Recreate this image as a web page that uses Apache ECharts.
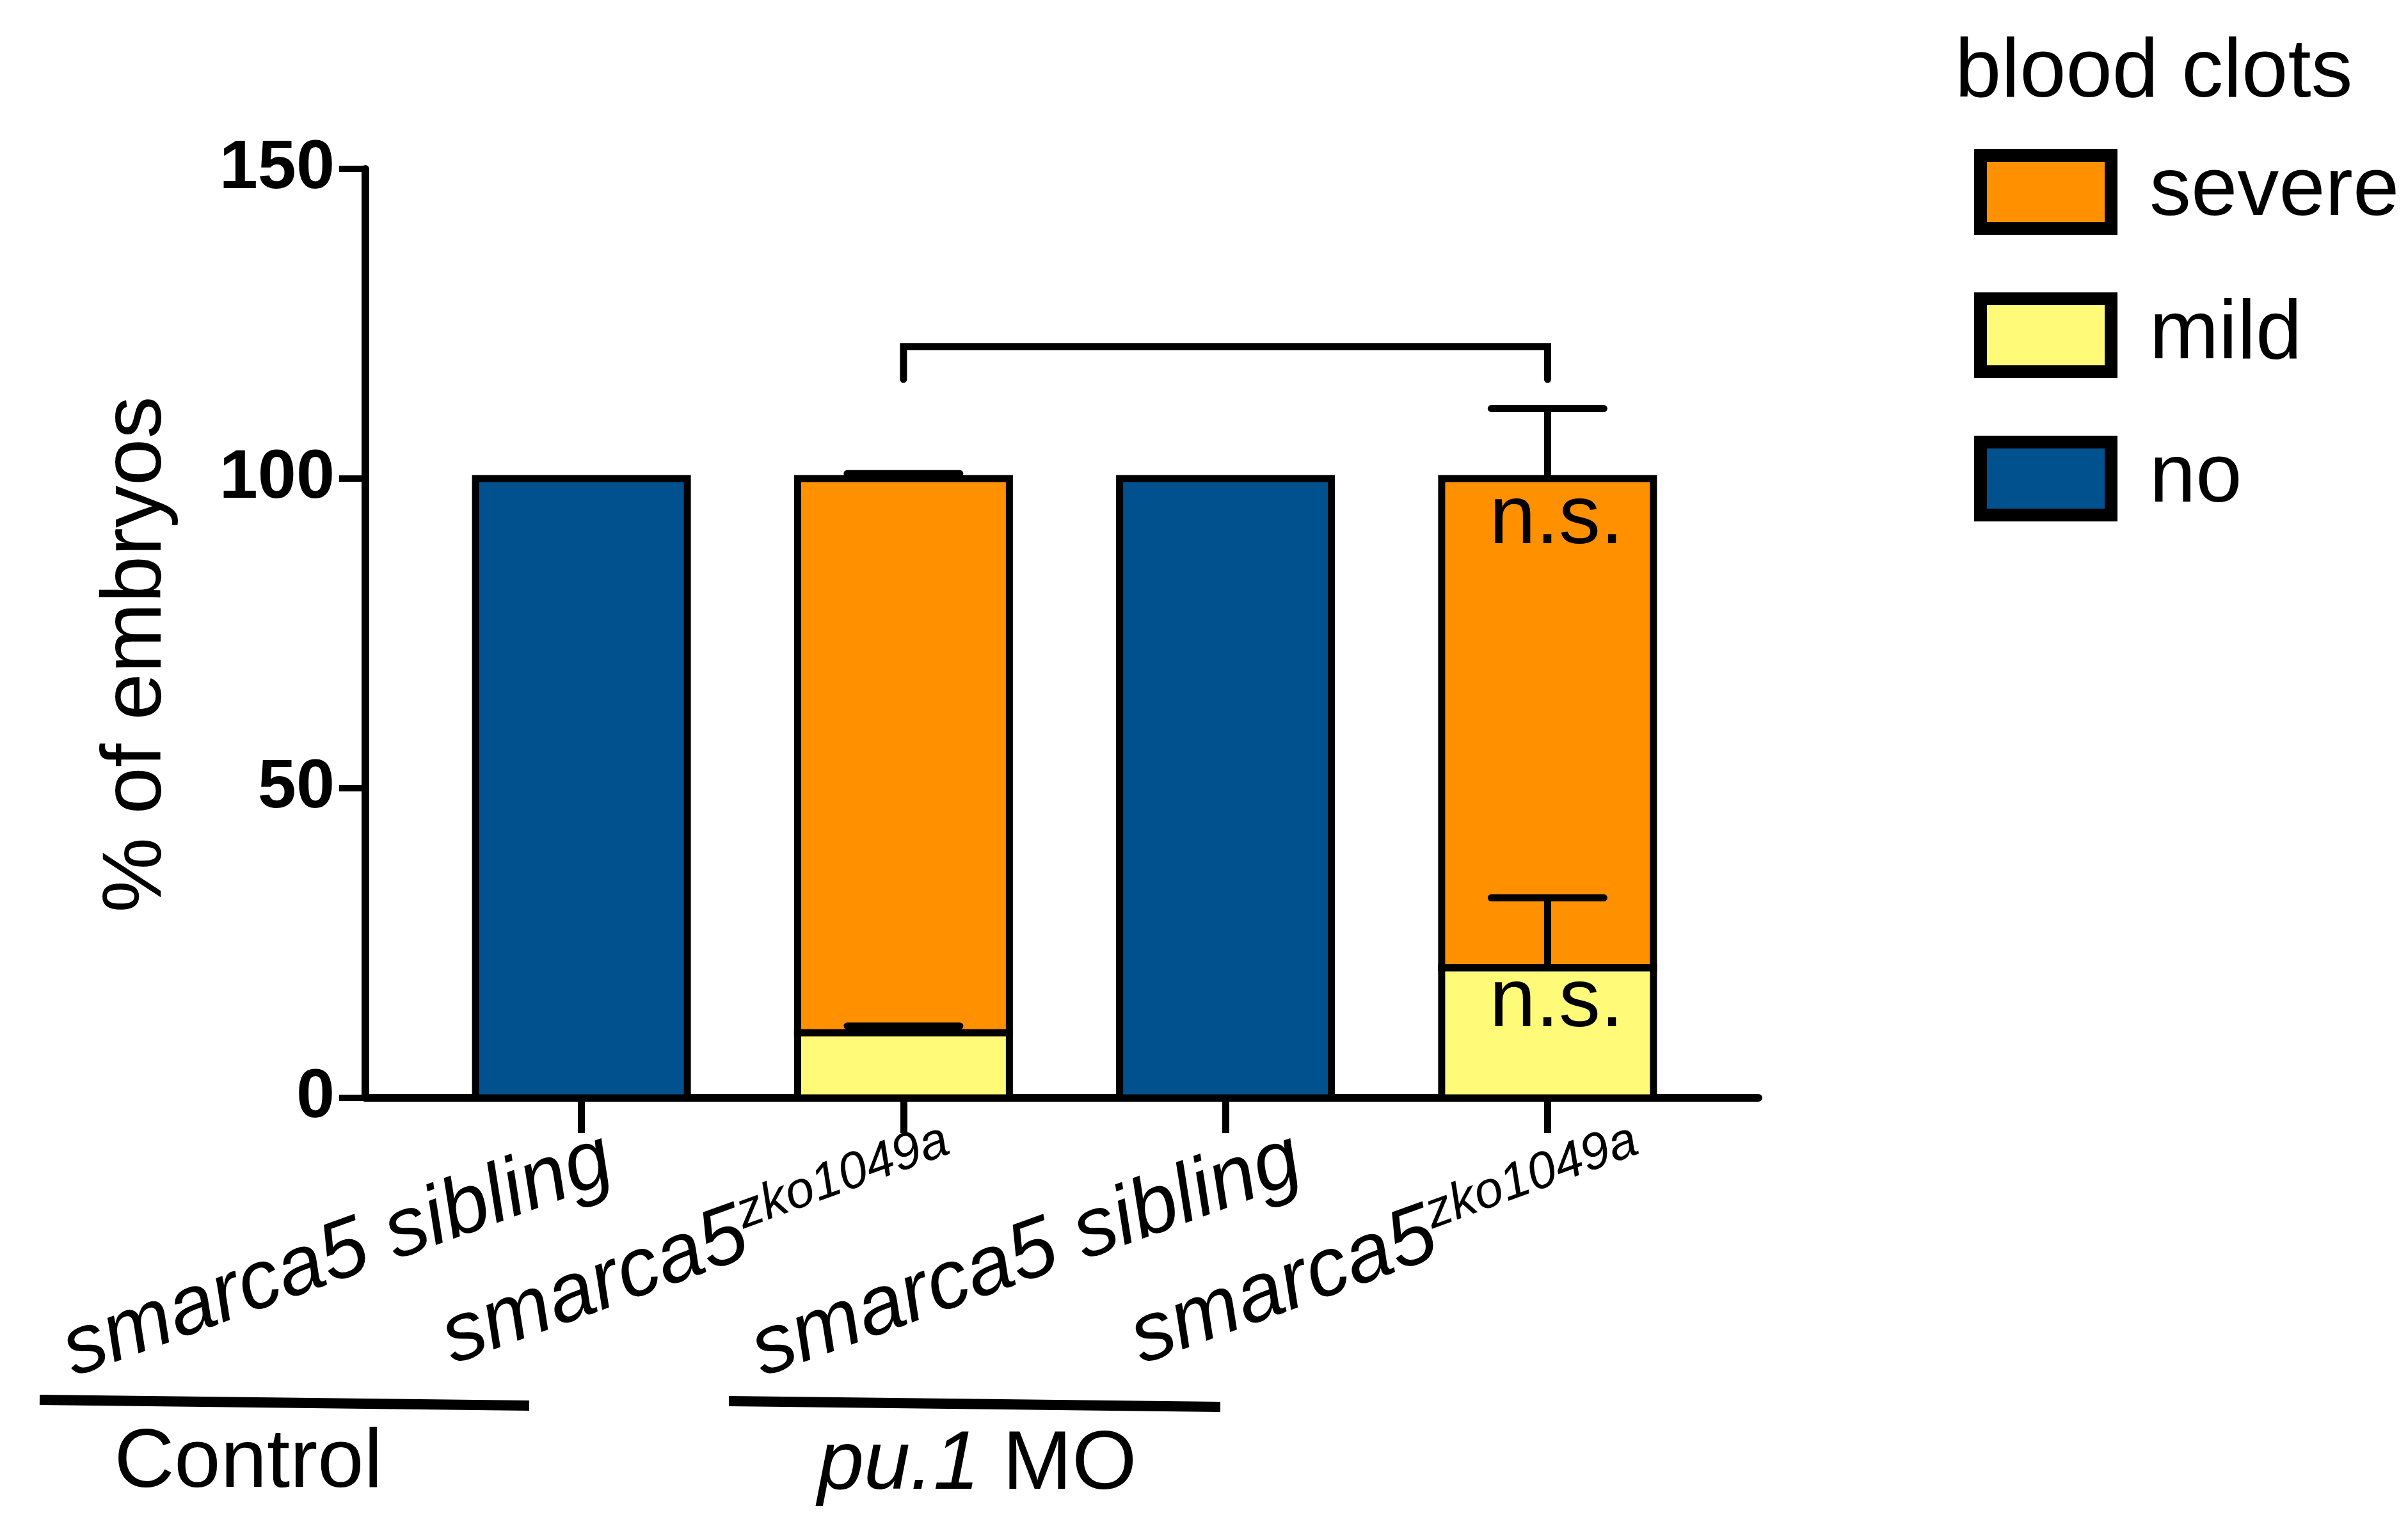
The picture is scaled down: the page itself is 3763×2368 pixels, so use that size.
<!DOCTYPE html>
<html><head><meta charset="utf-8">
<script src="https://cdn.jsdelivr.net/npm/echarts@6/dist/echarts.min.js"></script>
<style>html,body{margin:0;padding:0;background:#fff}#c{width:3763px;height:2368px}</style>
</head><body><div id="c"></div>
<script>
// ---- data ----
const catMain = ['smarca5 sibling', 'smarca5', 'smarca5 sibling', 'smarca5'];
const catSup = ['', 'zko1049a', '', 'zko1049a'];
const categories = catMain.map((m, i) => m + (catSup[i] ? ' ' + catSup[i] : ''));
const seriesNames = ['no', 'mild', 'severe'];
const noVals = [100, 0, 100, 0];
const mildVals = [0, 10.5, 0, 21];
const severeVals = [0, 89.5, 0, 79];
const mildErrTop = [null, 11.6, null, 32.3];
const severeErrTop = [null, 100.8, null, 111.3];
const mildSig = ['', '', '', 'n.s.'];
const severeSig = ['', '', '', 'n.s.'];
const bracket = [[1, 3, 121.3, 116]]; // from category, to category, top value, foot value
const yMin = 0, yMax = 150, yStep = 50;
const groupNames = ['Control', 'pu.1 MO'];
const legendTitle = 'blood clots';
const yName = '% of embryos';

const FF = '"Liberation Sans", Arial, Helvetica, sans-serif';
const colors = { no: '#02518F', mild: '#FFFB78', severe: '#FF9000' };
const BAR_W = 331;

// error bars: [category, from, to]
const errData = [];
categories.forEach((c, i) => {
  if (mildErrTop[i] != null) errData.push([i, noVals[i] + mildVals[i], mildErrTop[i]]);
  if (severeErrTop[i] != null) errData.push([i, noVals[i] + mildVals[i] + severeVals[i], severeErrTop[i]]);
});
// outlines of each stacked segment: [category, base, top]
const outlineData = [];
categories.forEach((c, i) => {
  let base = 0;
  [noVals, mildVals, severeVals].forEach(arr => {
    if (arr[i] > 0) { outlineData.push([i, base, base + arr[i]]); base += arr[i]; }
  });
});

function withSig(vals, sig, dist) {
  return vals.map((v, i) => sig[i] ? { value: v, label: { show: true, formatter: sig[i], distance: dist } } : v);
}

const gridTop = 264, gridBottom = 652;
const barStyle = (name) => ({ color: colors[name], borderWidth: 0 });
const nsLabel = { show: false, position: 'insideTop', offset: [14, 0], fontSize: 130, fontFamily: FF, color: '#000', lineHeight: 130 };

const chart = echarts.init(document.getElementById('c'), null, { renderer: 'canvas' });
chart.setOption({
  backgroundColor: '#fff',
  animation: false,
  title: { text: legendTitle, left: 3055, top: 50, padding: 0,
    textStyle: { fontSize: 130, fontWeight: 'normal', fontFamily: FF, color: '#000' } },
  legend: {
    data: ['severe', 'mild', 'no'], orient: 'vertical', left: 3085, top: 233, padding: 0,
    itemWidth: 204, itemHeight: 114, itemGap: 90, icon: 'rect', selectedMode: false,
    itemStyle: { borderWidth: 20, borderColor: '#000' },
    textStyle: { fontSize: 130, fontFamily: FF, color: '#000', lineHeight: 114, padding: [0, 0, 0, 55] }
  },
  grid: [
    { left: 657, width: 2013, top: gridTop, bottom: gridBottom },   // bars
    { left: 571, right: 1015, top: gridTop, bottom: gridBottom },   // axes frame
    { left: 683, width: 2153, top: gridTop, bottom: gridBottom }    // category labels
  ],
  xAxis: [
    { type: 'category', gridIndex: 0, data: categories,
      axisLine: { show: false }, axisLabel: { show: false },
      axisTick: { show: true, alignWithLabel: true, length: 55, lineStyle: { color: '#000', width: 11 } } },
    { type: 'value', gridIndex: 1, min: 0, max: 1,
      axisLine: { show: true, onZero: false, lineStyle: { color: '#000', width: 12 } },
      axisTick: { show: false }, axisLabel: { show: false }, splitLine: { show: false } },
    { type: 'category', gridIndex: 2, data: categories,
      axisLine: { show: false }, axisTick: { show: false },
      axisLabel: { show: true, rotate: 20, margin: 93, interval: 0,
        formatter: (v, i) => catSup[i] ? '{m|' + catMain[i] + '}{s|' + catSup[i] + '}' : '{m|' + catMain[i] + '}',
        rich: {
          m: { fontSize: 130, fontStyle: 'italic', fontFamily: FF, color: '#000', lineHeight: 140 },
          s: { fontSize: 80, fontStyle: 'italic', fontFamily: FF, color: '#000', verticalAlign: 'top' }
        } } }
  ],
  yAxis: [
    { type: 'value', gridIndex: 0, min: yMin, max: yMax, interval: yStep, show: false },
    { type: 'value', gridIndex: 1, min: yMin, max: yMax, interval: yStep,
      name: yName, nameLocation: 'middle', nameGap: 290,
      nameTextStyle: { fontSize: 132, fontFamily: FF, color: '#000', padding: [0, 66, 0, 0] },
      axisLine: { show: true, onZero: false, lineStyle: { color: '#000', width: 12 } },
      axisTick: { show: true, length: 41, lineStyle: { color: '#000', width: 10 } },
      axisLabel: { show: true, margin: 48, fontSize: 108, fontWeight: 'bold', fontFamily: FF, color: '#000' },
      splitLine: { show: false } },
    { type: 'value', gridIndex: 2, min: yMin, max: yMax, show: false }
  ],
  series: [
    { name: 'no', type: 'bar', stack: 'total', xAxisIndex: 0, yAxisIndex: 0, barWidth: BAR_W,
      itemStyle: barStyle('no'), data: noVals, z: 3 },
    { name: 'mild', type: 'bar', stack: 'total', xAxisIndex: 0, yAxisIndex: 0, barWidth: BAR_W,
      itemStyle: barStyle('mild'), label: nsLabel, data: withSig(mildVals, mildSig, -10), z: 3 },
    { name: 'severe', type: 'bar', stack: 'total', xAxisIndex: 0, yAxisIndex: 0, barWidth: BAR_W,
      itemStyle: barStyle('severe'), label: nsLabel, data: withSig(severeVals, severeSig, 0), z: 3 },
    { type: 'custom', xAxisIndex: 0, yAxisIndex: 0, z: 4, encode: { x: 0, y: [1, 2] }, data: outlineData,
      renderItem: (params, api) => {
        const p0 = api.coord([api.value(0), api.value(1)]);
        const p1 = api.coord([api.value(0), api.value(2)]);
        return { type: 'rect', shape: { x: p0[0] - BAR_W / 2, y: p1[1], width: BAR_W, height: p0[1] - p1[1] },
          style: { fill: null, stroke: '#000', lineWidth: 11, lineJoin: 'miter' } };
      } },
    { type: 'custom', xAxisIndex: 0, yAxisIndex: 0, z: 5, encode: { x: 0, y: [1, 2] }, data: errData,
      renderItem: (params, api) => {
        const i = api.value(0), a = api.value(1), b = api.value(2);
        const p0 = api.coord([i, a]), p1 = api.coord([i, b]);
        return { type: 'group', children: [
          { type: 'line', shape: { x1: p0[0], y1: p0[1], x2: p1[0], y2: p1[1] }, style: { stroke: '#000', lineWidth: 11 } },
          { type: 'line', shape: { x1: p1[0] - 88, y1: p1[1], x2: p1[0] + 88, y2: p1[1] }, style: { stroke: '#000', lineWidth: 11, lineCap: 'round' } }
        ] };
      } },
    { type: 'custom', xAxisIndex: 0, yAxisIndex: 0, z: 5, encode: { x: [0, 1], y: [2, 3] }, data: bracket,
      renderItem: (params, api) => {
        const a = api.coord([api.value(0), api.value(3)]);
        const b = api.coord([api.value(0), api.value(2)]);
        const c = api.coord([api.value(1), api.value(2)]);
        const d = api.coord([api.value(1), api.value(3)]);
        return { type: 'polyline', shape: { points: [a, b, c, d] },
          style: { stroke: '#000', lineWidth: 11, fill: null, lineCap: 'round', lineJoin: 'miter' } };
      } }
  ],
  graphic: [
    { type: 'line', shape: { x1: 62, y1: 2188, x2: 827, y2: 2197 }, style: { stroke: '#000', lineWidth: 16 } },
    { type: 'line', shape: { x1: 1139, y1: 2190, x2: 1907, y2: 2199 }, style: { stroke: '#000', lineWidth: 16 } },
    { type: 'text', x: 388, y: 2288, style: { text: groupNames[0], fontSize: 130, fontFamily: FF, fill: '#000', align: 'center', verticalAlign: 'middle' } },
    { type: 'text', x: 1527, y: 2291, style: { text: '{i|pu.1} MO', fontSize: 130, fontFamily: FF, fill: '#000', align: 'center', verticalAlign: 'middle',
      rich: { i: { fontStyle: 'italic', fontSize: 130, fontFamily: FF, fill: '#000' } } } }
  ]
});
</script></body></html>
